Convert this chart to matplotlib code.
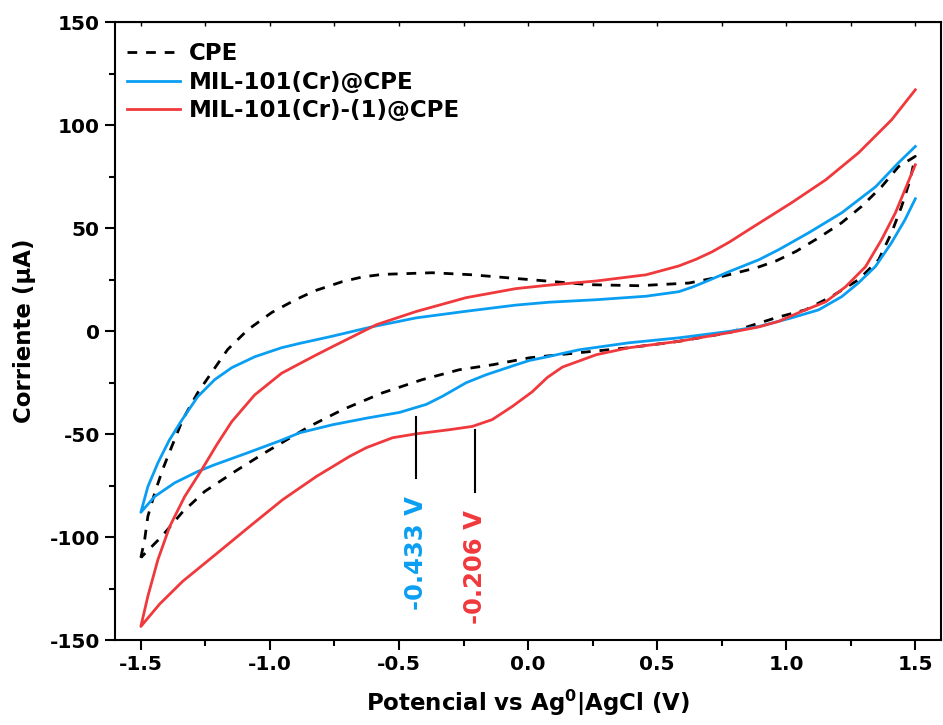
import numpy as np
import matplotlib
matplotlib.use('Agg')
import matplotlib.pyplot as plt
from matplotlib.ticker import MultipleLocator

plt.rcParams['font.family'] = ['DejaVu Sans']
plt.rcParams['font.weight'] = 'bold'
plt.rcParams['mathtext.default'] = 'bf'
plt.rcParams['axes.unicode_minus'] = False

#%% Voltammograms (V, uA), forward (anodic) and reverse scans
cpe_fwd_x = [-1.500, -1.485, -1.473, -1.446, -1.415, -1.380, -1.338, -1.280, -1.225, -1.164,
             -1.086, -0.993, -0.904, -0.827, -0.719, -0.640, -0.564, -0.371, -0.216, -0.084,
             0.060, 0.237, 0.430, 0.623, 0.751, 0.882, 0.960, 1.037, 1.126, 1.215,
             1.292, 1.369, 1.435, 1.500]
cpe_fwd_y = [-110.0, -101.0, -90.0, -78.5, -67.0, -56.0, -43.0, -30.0, -20.0, -9.0,
             0.6, 9.0, 15.0, 19.5, 24.0, 26.3, 27.5, 28.3, 27.3, 25.9,
             24.4, 22.5, 22.0, 23.3, 26.5, 30.6, 34.0, 38.6, 45.3, 52.6,
             60.5, 70.0, 79.8, 84.8]
cpe_rev_x = [1.500, 1.480, 1.447, 1.408, 1.358, 1.280, 1.176, 1.075, 0.959, 0.778, 0.584,
             0.391, 0.198, 0.005, -0.139, -0.267, -0.410, -0.564, -0.719, -0.847, -1.020,
             -1.136, -1.253, -1.341, -1.419, -1.500]
cpe_rev_y = [84.8, 73.4, 60.5, 47.7, 34.6, 24.9, 16.8, 10.3, 6.4, -0.8, -5.0,
             -8.1, -10.5, -13.0, -16.4, -18.8, -23.6, -30.0, -38.2, -46.3, -59.1,
             -68.2, -77.9, -88.2, -99.7, -110.0]

mil_fwd_x = [-1.500, -1.473, -1.434, -1.390, -1.340, -1.280, -1.214, -1.148, -1.059, -0.955,
             -0.885, -0.758, -0.603, -0.433, -0.240, -0.047, 0.082, 0.264, 0.457, 0.584,
             0.640, 0.700, 0.778, 0.894, 0.971, 1.087, 1.215, 1.346, 1.435, 1.500]
mil_fwd_y = [-88.0, -75.6, -64.0, -53.0, -43.0, -31.9, -23.6, -17.8, -12.5, -8.1,
             -6.0, -2.5, 2.1, 6.4, 9.6, 12.6, 14.0, 15.2, 16.9, 19.1,
             21.5, 24.6, 28.8, 34.6, 39.5, 47.7, 57.4, 70.0, 81.7, 89.6]
mil_rev_x = [1.500, 1.460, 1.408, 1.346, 1.280, 1.215, 1.126, 1.021, 0.894, 0.778, 0.584,
             0.391, 0.198, 0.082, 0.005, -0.047, -0.162, -0.240, -0.332, -0.394, -0.498,
             -0.626, -0.758, -0.885, -0.955, -1.086, -1.214, -1.280, -1.369, -1.446, -1.500]
mil_rev_y = [64.2, 54.0, 42.9, 31.4, 23.4, 16.7, 10.3, 6.4, 2.2, -0.2, -3.3,
             -5.7, -9.1, -12.3, -14.3, -16.4, -21.2, -25.1, -31.7, -35.6, -39.5,
             -42.3, -45.5, -49.4, -53.0, -59.1, -64.9, -68.2, -73.7, -80.3, -88.0]

mil1_fwd_x = [-1.500, -1.473, -1.434, -1.388, -1.330, -1.264, -1.205, -1.148, -1.059, -0.955,
              -0.827, -0.758, -0.587, -0.433, -0.240, -0.047, 0.082, 0.264, 0.457, 0.584,
              0.650, 0.712, 0.780, 0.855, 1.021, 1.153, 1.280, 1.408, 1.500]
mil1_fwd_y = [-143.4, -128.8, -111.0, -94.8, -80.3, -67.3, -55.0, -44.0, -31.0, -20.5,
              -12.0, -7.6, 3.1, 9.5, 16.2, 20.6, 22.3, 24.3, 27.3, 31.6,
              34.8, 38.4, 43.2, 49.2, 62.3, 73.4, 86.5, 102.5, 117.1]
mil1_rev_x = [1.500, 1.460, 1.423, 1.369, 1.307, 1.230, 1.153, 1.048, 0.971, 0.894,
              0.778, 0.584, 0.391, 0.264, 0.133, 0.075, 0.016, -0.061, -0.139, -0.216,
              -0.305, -0.433, -0.525, -0.626, -0.692, -0.820, -0.951, -1.078, -1.206, -1.338,
              -1.427, -1.500]
mil1_rev_y = [80.7, 68.6, 57.4, 44.3, 31.2, 21.5, 14.2, 8.9, 4.7, 2.0,
              -0.8, -5.0, -8.1, -11.5, -17.5, -22.5, -29.5, -36.6, -43.0, -46.3,
              -47.9, -49.9, -51.8, -56.6, -60.9, -70.6, -81.9, -94.8, -108.0, -121.5,
              -132.5, -143.4]

# reduction peaks marked in the figure
peak_x = [-0.433, -0.206]
peak_top = [-41.5, -48.0]
peak_bottom = [-71.2, -77.9]
peak_text_y = [-107.6, -114.4]
peak_labels = ['-0.433 V', '-0.206 V']

blue = '#0A9EF2'
red = '#F0393C'

#%% Figure
fig = plt.figure(figsize=(9.43, 7.25), dpi=100)
ax = fig.add_axes([0.1220, 0.1172, 0.876, 0.8524])

# CPE is a closed loop; the two MOF electrodes are open at +1.5 V
ax.plot(cpe_fwd_x + cpe_rev_x, cpe_fwd_y + cpe_rev_y, color='black', lw=2.0,
        dashes=(3.5, 3.2), label='CPE')
ax.plot(mil_fwd_x[::-1] + mil_rev_x[::-1][1:], mil_fwd_y[::-1] + mil_rev_y[::-1][1:],
        color=blue, lw=2.0, label='MIL-101(Cr)@CPE')
ax.plot(mil1_fwd_x[::-1] + mil1_rev_x[::-1][1:], mil1_fwd_y[::-1] + mil1_rev_y[::-1][1:],
        color=red, lw=2.0, label='MIL-101(Cr)-(1)@CPE')

for xp, yt, yb, yl, lab, c in zip(peak_x, peak_top, peak_bottom, peak_text_y, peak_labels, [blue, red]):
    ax.plot([xp, xp], [yt, yb], color='black', lw=1.5)
    ax.text(xp, yl, lab, color=c, rotation=90, ha='center', va='center',
            fontsize=17.5, fontweight='bold')

ax.set_xlim(-1.6, 1.6)
ax.set_ylim(-150, 150)
ax.xaxis.set_major_locator(MultipleLocator(0.5))
ax.xaxis.set_minor_locator(MultipleLocator(0.25))
ax.yaxis.set_major_locator(MultipleLocator(50))
ax.yaxis.set_minor_locator(MultipleLocator(25))
ax.xaxis.set_major_formatter(plt.FuncFormatter(lambda v, p: f'{v:.1f}'))
ax.tick_params(which='major', direction='out', length=7, width=1.5, labelsize=14.5, pad=4)
ax.tick_params(which='minor', direction='out', length=4, width=1.5)
for s in ax.spines.values():
    s.set_linewidth(1.5)

top = ax.secondary_xaxis('top')
top.xaxis.set_major_locator(MultipleLocator(0.5))
top.xaxis.set_minor_locator(MultipleLocator(0.25))
top.tick_params(which='both', direction='in', length=3, width=1.0, labeltop=False)

ax.set_xlabel(r'Potencial vs Ag$^{0}$|AgCl (V)', fontsize=16.5, fontweight='bold', labelpad=10)
ax.set_ylabel('Corriente (μA)', fontsize=16.5, fontweight='bold', labelpad=10)

ax.legend(loc='upper left', bbox_to_anchor=(0.015, 0.968), frameon=False,
          fontsize=16.5, handlelength=2.3, handletextpad=0.4, labelspacing=0.25,
          borderpad=0, borderaxespad=0)

fig.savefig('out.png', dpi=100)
